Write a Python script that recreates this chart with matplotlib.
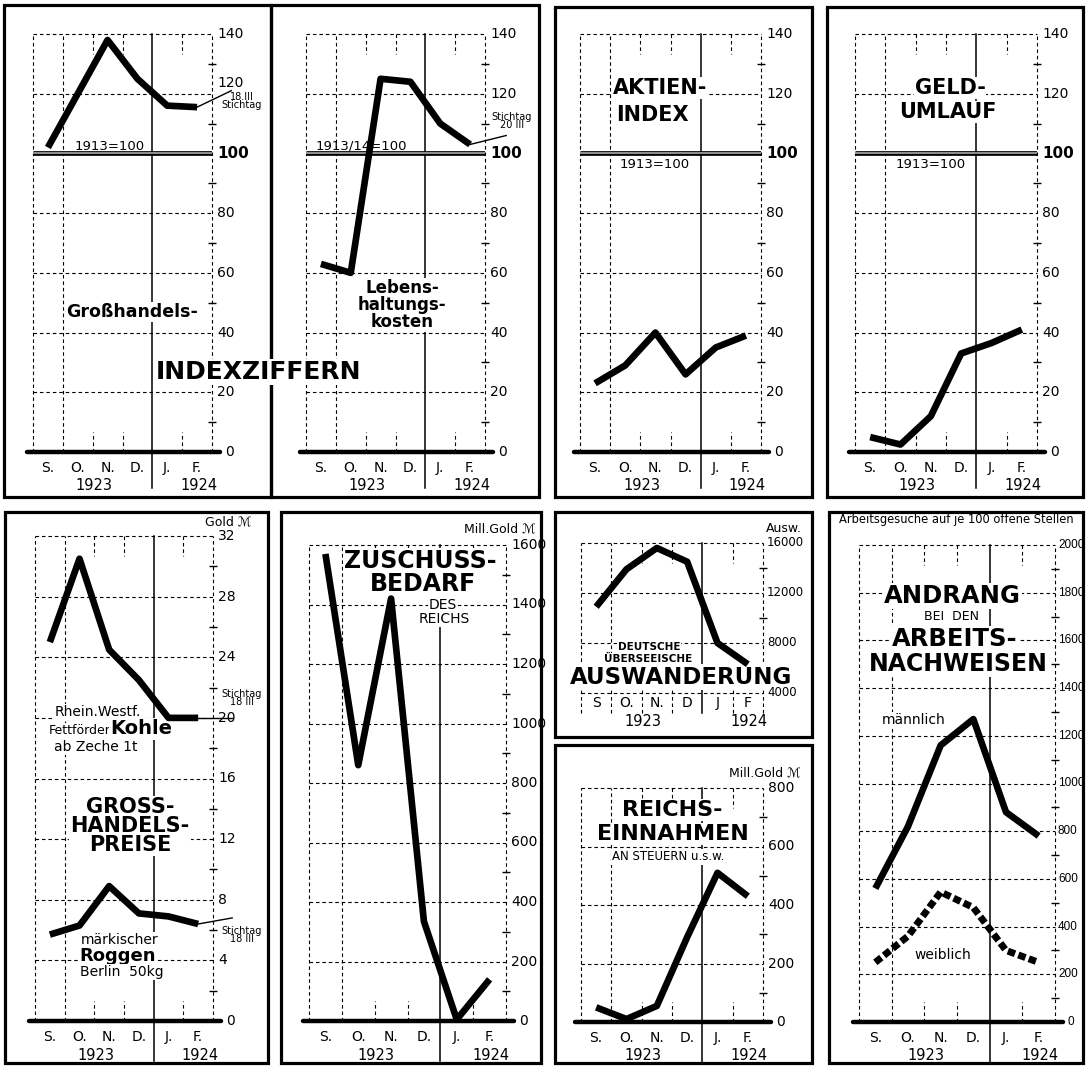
import matplotlib
matplotlib.use('Agg')
import matplotlib.pyplot as plt
from matplotlib.patches import Rectangle

plt.rcParams['font.family'] = ['DejaVu Sans']

W, H = 1086, 1066

# ---------------- data ----------------
months = ['S.', 'O.', 'N.', 'D.', 'J.', 'F.']
months_ausw = ['S', 'O.', 'N.', 'D', 'J', 'F']
years = ['1923', '1924']

idx_ticks = [0, 20, 40, 60, 80, 100, 120, 140]
idx_minor = [10, 30, 50, 70, 90, 110, 130]
idx_grosshandel = [102, 120, 138, 125, 116, 115.5]
idx_grosshandel_stichtag = 121          # 18. III 1924
idx_lebenshaltung = [63, 60, 125, 124, 110, 103]
idx_lebenshaltung_stichtag = 106        # 20. III 1924
idx_aktien = [23, 29, 40, 26, 35, 39]
idx_geldumlauf = [5, 2.5, 12, 33, 36.5, 41]

preis_ticks = [0, 4, 8, 12, 16, 20, 24, 28, 32]
preis_minor = [2, 6, 10, 14, 18, 22, 26, 30]
preis_kohle = [25, 30.5, 24.5, 22.5, 20, 20]
preis_kohle_stichtag = 20               # 18. III 1924
preis_roggen = [5.7, 6.3, 8.9, 7.1, 6.9, 6.4]
preis_roggen_stichtag = 6.8             # 18. III 1924

zuschuss_ticks = [0, 200, 400, 600, 800, 1000, 1200, 1400, 1600]
zuschuss_minor = [100, 300, 500, 700, 900, 1100, 1300, 1500]
zuschussbedarf = [1570, 860, 1420, 335, 5, 140]

ausw_ticks = [4000, 8000, 12000, 16000]
ausw_minor = [6000, 10000, 14000]
auswanderung = [10900, 13900, 15600, 14500, 8000, 6300]

einn_ticks = [0, 200, 400, 600, 800]
einn_minor = [100, 300, 500, 700]
reichseinnahmen = [50, 10, 55, 290, 510, 430]

andrang_ticks = [0, 200, 400, 600, 800, 1000, 1200, 1400, 1600, 1800, 2000]
andrang_minor = [100, 300, 500, 700, 900, 1100, 1300, 1500, 1700, 1900]
andrang_maennlich = [560, 820, 1160, 1270, 880, 780]
andrang_weiblich = [250, 360, 545, 480, 300, 250]

stichtag_tage = [18, 20]   # day in March 1924

# ---------------- helpers ----------------
fig = plt.figure(figsize=(W / 100, H / 100), dpi=100)
fig.patch.set_facecolor('white')

xm = [i + 0.5 for i in range(len(months))]


def x_stichtag(day):
    return 6 + (day + 2) / 31.0


def frame(x0, y0, x1, y1, lw=2.3):
    fig.add_artist(Rectangle((x0 / W, 1 - y1 / H), (x1 - x0) / W, (y1 - y0) / H,
                             transform=fig.transFigure, fill=False, ec='black',
                             lw=lw, zorder=-1))


def T(ax, x, y, s, size=10, weight='normal', ha='center', va='center', bg=False, **kw):
    bbox = dict(facecolor='white', edgecolor='none', pad=0.8) if bg else None
    ax.text(x / W, 1 - y / H, s, transform=fig.transFigure, fontsize=size,
            fontweight=weight, ha=ha, va=va, bbox=bbox, zorder=3, **kw)


def panel(xl, xr, ytop, ybase, vmin, vmax, ticks, minors, labels=None,
          mlabels=months, thick_base=True, ext_below=0, year_len=36,
          lab_dy=16, year_dy=34, year_x=(2.05, 5.55), label_fs=10, bold=None,
          label_dx=5, label_family=None, label_shift=None):
    ax = fig.add_axes([xl / W, 1 - ybase / H, (xr - xl) / W, (ybase - ytop) / H])
    ax.set_xlim(0, 6)
    ax.set_ylim(vmin, vmax)
    ax.axis('off')
    ax.patch.set_visible(False)
    kx = (xr - xl) / 6.0
    ky = (ybase - ytop) / (vmax - vmin)
    label_shift = label_shift or {}

    def px(p):
        return p / ky

    dash = (0, (3.2, 2.6))
    g = dict(color='k', lw=0.8, ls=dash, clip_on=False, zorder=2)
    for v in ticks:
        if v == vmin and thick_base:
            continue
        ax.plot([0, 6], [v, v], **g)
    bottom = vmin - px(ext_below)
    for x in (0, 1, 6):
        ax.plot([x, x], [bottom, vmax], **g)
    for x in (2, 3, 5):
        ax.plot([x, x], [vmax, vmax - px(20)], **g)
        ax.plot([x, x], [bottom, vmin + px(20)], **g)
    ax.plot([4, 4], [vmax, vmin - px(year_len)], color='k', lw=1.1,
            clip_on=False, zorder=2)
    ax.plot([6] * len(minors), minors, ls='none', marker='_', ms=6, mew=1.0,
            color='k', clip_on=False, zorder=2)
    if thick_base:
        ax.plot([-6 / kx, 6 + 8 / kx], [vmin, vmin], color='k', lw=3.2,
                solid_capstyle='round', clip_on=False, zorder=2)
    if labels is None:
        labels = [str(v) for v in ticks]
    for v, s in zip(ticks, labels):
        dx = 13 if (v == vmin and thick_base) else label_dx
        dy = label_shift.get(v, 0)
        fw = 'bold' if v == bold else 'normal'
        fs = label_fs + 1 if v == bold else label_fs
        kw = {}
        if label_family:
            kw['family'] = label_family
        ax.annotate(s, (6, v), xytext=(dx * 0.72, dy * 0.72), textcoords='offset points',
                    ha='left', va='center', fontsize=fs, fontweight=fw,
                    annotation_clip=False, zorder=3.5, **kw)
    for x, m in zip(xm, mlabels):
        ax.annotate(m, (x, vmin), xytext=(0, -lab_dy * 0.72), textcoords='offset points',
                    ha='center', va='center', fontsize=10, annotation_clip=False)
    for xx, yy in zip(year_x, years):
        ax.annotate(yy, (xx, vmin), xytext=(0, -year_dy * 0.72), textcoords='offset points',
                    ha='center', va='center', fontsize=10.5, annotation_clip=False)
    return ax


def line100(ax):
    ax.plot([0, 6], [100, 100], color='k', lw=3.4, zorder=2.5, solid_capstyle='butt')
    ax.plot([0, 6], [100, 100], color='#b8b8b8', lw=1.1, zorder=2.6, solid_capstyle='butt')


LW = dict(color='k', lw=4.8, solid_joinstyle='round', solid_capstyle='butt',
          zorder=4, clip_on=False)
THIN = dict(color='k', lw=1.0, zorder=4, clip_on=False)

# ---------------- frames ----------------
frame(4, 5, 271, 497)
frame(271, 5, 539, 497)
frame(555, 7, 812, 497)
frame(827, 7, 1083, 497)
frame(5, 512, 268, 1063)
frame(281, 512, 541, 1063)
frame(555, 512, 812, 737)
frame(555, 745, 812, 1063)
frame(829, 512, 1083, 1063)

# ---------------- top row ----------------
ax1 = panel(33, 212, 34, 452, 0, 140, idx_ticks, idx_minor, bold=100,
            label_shift={120: 11})
line100(ax1)
ax1.plot(xm, idx_grosshandel, **LW)
ax1.plot([xm[-1], x_stichtag(stichtag_tage[0])],
         [idx_grosshandel[-1], idx_grosshandel_stichtag], **THIN)
T(ax1, 110, 146, '1913=100', 9.5)
T(ax1, 242, 101, '18.III\nStichtag', 7, linespacing=0.85)
T(ax1, 132, 312, 'Großhandels-', 12.5, 'semibold', bg=True)

ax2 = panel(306, 485, 34, 452, 0, 140, idx_ticks, idx_minor, bold=100)
line100(ax2)
ax2.plot(xm, idx_lebenshaltung, **LW)
ax2.plot([xm[-1], x_stichtag(stichtag_tage[1])],
         [idx_lebenshaltung[-1], idx_lebenshaltung_stichtag], **THIN)
T(ax2, 361, 146, '1913/14=100', 9.5)
T(ax2, 512, 121, 'Stichtag\n20 III', 7, linespacing=0.85)
T(ax2, 402, 305, 'Lebens-\nhaltungs-\nkosten', 12, 'semibold', bg=True, linespacing=0.9)
T(ax2, 258, 372, 'INDEXZIFFERN', 18, 'bold', bg=True)

ax3 = panel(580, 761, 34, 452, 0, 140, idx_ticks, idx_minor, bold=100)
line100(ax3)
ax3.plot(xm, idx_aktien, **LW)
T(ax3, 613, 88, 'AKTIEN-', 15, 'bold', ha='left', bg=True)
T(ax3, 616, 115, 'INDEX', 15, 'bold', ha='left', bg=True)
T(ax3, 655, 165, '1913=100', 9.5)

ax4 = panel(855, 1037, 34, 452, 0, 140, idx_ticks, idx_minor, bold=100)
line100(ax4)
ax4.plot(xm, idx_geldumlauf, **LW)
T(ax4, 950, 88, 'GELD-', 15, 'bold', bg=True)
T(ax4, 948, 112, 'UMLAUF', 15, 'bold', bg=True)
T(ax4, 931, 164, '1913=100', 9.5)

# ---------------- bottom row ----------------
ax5 = panel(35, 213, 536, 1021, 0, 32, preis_ticks, preis_minor, year_len=40)
ax5.plot(xm, preis_kohle, **LW)
ax5.plot([xm[-1], x_stichtag(stichtag_tage[0])],
         [preis_kohle[-1], preis_kohle_stichtag], **THIN)
ax5.plot(xm, preis_roggen, **LW)
ax5.plot([xm[-1], x_stichtag(stichtag_tage[0])],
         [preis_roggen[-1], preis_roggen_stichtag], **THIN)
T(ax5, 228, 522, 'Gold ℳ', 9)
T(ax5, 242, 698, 'Stichtag\n18 III', 7, linespacing=0.85)
T(ax5, 98, 712, 'Rhein.Westf.', 10, bg=True)
T(ax5, 111, 731, 'Fettförder', 9, ha='right', bg=True)
T(ax5, 110, 729, 'Kohle', 14, 'bold', ha='left', bg=True)
T(ax5, 96, 747, 'ab Zeche 1t', 10, bg=True)
T(ax5, 130, 826, 'GROSS-\nHANDELS-\nPREISE', 15, 'bold', bg=True, linespacing=0.92)
T(ax5, 120, 940, 'märkischer', 10, bg=True)
T(ax5, 118, 956, 'Roggen', 13, 'bold', bg=True)
T(ax5, 122, 972, 'Berlin  50kg', 10, bg=True)
T(ax5, 242, 935, 'Stichtag\n18 III', 7, linespacing=0.85)

ax6 = panel(309, 506, 545, 1021, 0, 1600, zuschuss_ticks, zuschuss_minor, year_len=40)
ax6.plot(xm, zuschussbedarf, **LW)
T(ax6, 500, 529, 'Mill.Gold ℳ', 9)
T(ax6, 420, 561, 'ZUSCHUSS-', 17, 'bold', bg=True)
T(ax6, 423, 584, 'BEDARF', 17, 'bold', bg=True)
T(ax6, 443, 605, 'DES', 10, bg=True)
T(ax6, 444, 619, 'REICHS', 10, bg=True)

ax7 = panel(581, 763, 543, 693, 4000, 16000, ausw_ticks, ausw_minor,
            mlabels=months_ausw, thick_base=False, ext_below=20, year_len=20,
            lab_dy=10, year_dy=29, label_fs=8.5, label_dx=4)
ax7.plot(xm, auswanderung, **LW)
T(ax7, 784, 529, 'Ausw.', 9)
T(ax7, 649, 647, 'DEUTSCHE', 7.5, 'bold', bg=True)
T(ax7, 648, 659, 'ÜBERSEEISCHE', 7.5, 'bold', bg=True)
T(ax7, 681, 677, 'AUSWANDERUNG', 16.5, 'bold', bg=True)

ax8 = panel(581, 763, 788, 1022, 0, 800, einn_ticks, einn_minor, year_len=40)
ax8.plot(xm, reichseinnahmen, **LW)
T(ax8, 765, 773, 'Mill.Gold ℳ', 9)
T(ax8, 672, 810, 'REICHS-', 16, 'bold', bg=True)
T(ax8, 673, 834, 'EINNAHMEN', 16, 'bold', bg=True)
T(ax8, 668, 857, 'AN STEUERN u.s.w.', 8.5, bg=True)

ax9 = panel(859, 1055, 545, 1022, 0, 2000, andrang_ticks, andrang_minor, year_len=40,
            label_fs=8.5, label_dx=3, label_family='Liberation Sans')
ax9.plot(xm, andrang_maennlich, **LW)
ax9.plot(xm, andrang_weiblich, color='k', lw=5, ls=(0, (1.1, 0.5)),
         solid_joinstyle='round', dash_capstyle='butt', zorder=4)
T(ax9, 956, 520, 'Arbeitsgesuche auf je 100 offene Stellen', 8.3)
T(ax9, 952, 596, 'ANDRANG', 17.5, 'bold', bg=True)
T(ax9, 951, 617, 'BEI  DEN', 9, bg=True)
T(ax9, 955, 639, 'ARBEITS-', 17.5, 'bold', bg=True)
T(ax9, 958, 664, 'NACHWEISEN', 17, 'bold', bg=True)
T(ax9, 914, 720, 'männlich', 10, bg=True)
T(ax9, 943, 955, 'weiblich', 10, bg=True)

fig.savefig('out.png', dpi=100, facecolor='white')
